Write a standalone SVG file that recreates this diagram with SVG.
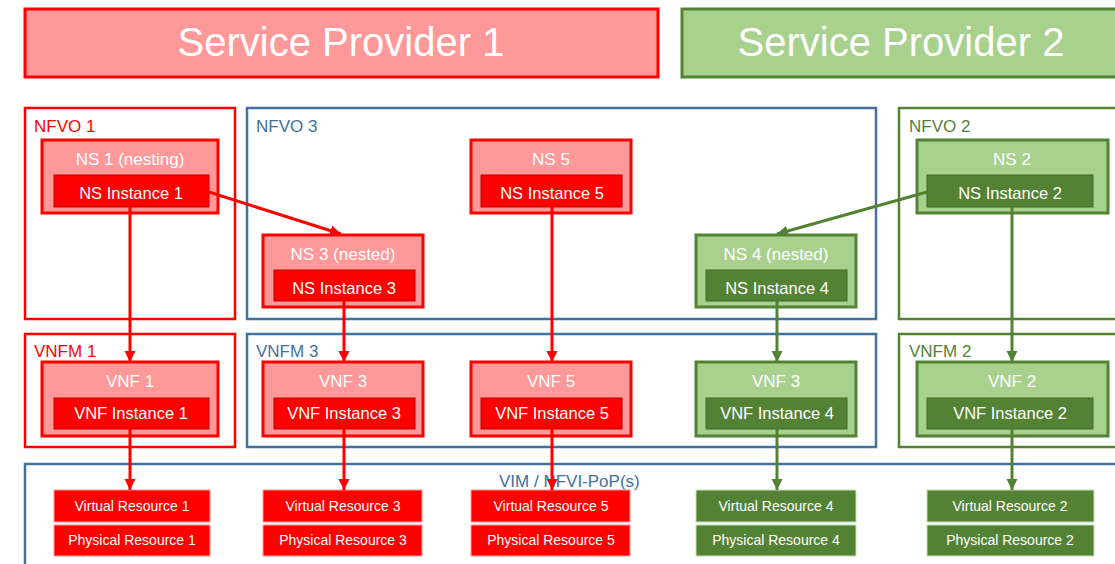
<svg xmlns="http://www.w3.org/2000/svg" width="1115" height="564" viewBox="0 0 1115 564">
<defs>
<style>
text{font-family:"Liberation Sans",Arial,sans-serif}
.banner{font-size:40px;fill:#fff;text-anchor:middle}
.ttl{font-size:17px;fill:#fff;text-anchor:middle}
.inst{font-size:16.5px;fill:#fff;text-anchor:middle}
.res{font-size:14px;fill:#fff;text-anchor:middle}
.lbl{font-size:17px}
.rOut{fill:#FF9999;stroke:#FF0000;stroke-width:3}
.rIn{fill:#FF0000;stroke:#C00000;stroke-width:1}
.rRes{fill:#FF0000;stroke:#FF9A9A;stroke-width:1}
.gOut{fill:#A9D18E;stroke:#548235;stroke-width:3}
.gIn{fill:#548235;stroke:#3F6A25;stroke-width:1}
.gRes{fill:#548235;stroke:#C5E0B4;stroke-width:1}
.cR{fill:none;stroke:#FF0000;stroke-width:2.5}
.cB{fill:none;stroke:#41719C;stroke-width:2.5}
.cG{fill:none;stroke:#548235;stroke-width:2.5}
.aR{stroke:#FF0000;stroke-width:3;fill:none;marker-end:url(#arR)}
.aG{stroke:#548235;stroke-width:3;fill:none;marker-end:url(#arG)}
</style>
<marker id="arR" markerUnits="userSpaceOnUse" markerWidth="12" markerHeight="12" viewBox="0 0 12 12" refX="11" refY="6" orient="auto"><path d="M0,0.5 L11,6 L0,11.5 Z" fill="#FF0000"/></marker>
<marker id="arG" markerUnits="userSpaceOnUse" markerWidth="12" markerHeight="12" viewBox="0 0 12 12" refX="11" refY="6" orient="auto"><path d="M0,0.5 L11,6 L0,11.5 Z" fill="#548235"/></marker>
</defs>

<g id="sp1"><rect x="25" y="9" width="633" height="68" fill="#FF9999" stroke="#FF0000" stroke-width="3"/><text class="banner" x="341" y="56">Service Provider 1</text></g>
<g id="sp2"><rect x="682" y="9" width="440" height="68" fill="#A9D18E" stroke="#548235" stroke-width="3"/><text class="banner" x="901" y="56">Service Provider 2</text></g>

<g id="nfvo1"><rect class="cR" x="25" y="108" width="210" height="211"/><text class="lbl" x="34" y="132" fill="#FF0000">NFVO 1</text></g>
<g id="nfvo3"><rect class="cB" x="247" y="108" width="629" height="211"/><text class="lbl" x="256" y="132" fill="#41719C">NFVO 3</text></g>
<g id="nfvo2"><rect class="cG" x="899" y="108" width="230" height="211"/><text class="lbl" x="909" y="132" fill="#548235">NFVO 2</text></g>

<g id="vnfm1"><rect class="cR" x="25" y="334" width="210" height="113"/><text class="lbl" x="34" y="357" fill="#FF0000">VNFM 1</text></g>
<g id="vnfm3"><rect class="cB" x="247" y="334" width="629" height="113"/><text class="lbl" x="256" y="357" fill="#41719C">VNFM 3</text></g>
<g id="vnfm2"><rect class="cG" x="899" y="334" width="230" height="113"/><text class="lbl" x="909" y="357" fill="#548235">VNFM 2</text></g>

<g id="vim"><rect class="cB" x="25" y="464" width="1110" height="120"/><text class="lbl" x="499" y="487" fill="#41719C" font-size="17.5">VIM / NFVI-PoP(s)</text></g>

<g id="ns1"><rect class="rOut" x="42" y="140" width="176" height="73"/><text class="ttl" x="130" y="165">NS 1 (nesting)</text><rect class="rIn" x="54" y="175" width="155" height="32"/><text class="inst" x="131" y="199">NS Instance 1</text></g>
<g id="ns3"><rect class="rOut" x="263" y="235" width="160" height="72"/><text class="ttl" x="343" y="260">NS 3 (nested)</text><rect class="rIn" x="274" y="270" width="141" height="31"/><text class="inst" x="344" y="294">NS Instance 3</text></g>
<g id="ns5"><rect class="rOut" x="471" y="140" width="160" height="73"/><text class="ttl" x="551" y="165">NS 5</text><rect class="rIn" x="481" y="175" width="141" height="32"/><text class="inst" x="552" y="199">NS Instance 5</text></g>
<g id="ns4"><rect class="gOut" x="696" y="235" width="160" height="72"/><text class="ttl" x="776" y="260">NS 4 (nested)</text><rect class="gIn" x="706" y="270" width="141" height="31"/><text class="inst" x="777" y="294">NS Instance 4</text></g>
<g id="ns2"><rect class="gOut" x="917" y="140" width="191" height="73"/><text class="ttl" x="1012" y="165">NS 2</text><rect class="gIn" x="927" y="175" width="166" height="32"/><text class="inst" x="1010" y="199">NS Instance 2</text></g>

<g id="vnf1"><rect class="rOut" x="42" y="362" width="176" height="74"/><text class="ttl" x="130" y="387">VNF 1</text><rect class="rIn" x="54" y="398" width="155" height="31"/><text class="inst" x="131" y="419">VNF Instance 1</text></g>
<g id="vnf3r"><rect class="rOut" x="263" y="362" width="160" height="74"/><text class="ttl" x="343" y="387">VNF 3</text><rect class="rIn" x="274" y="398" width="141" height="31"/><text class="inst" x="344" y="419">VNF Instance 3</text></g>
<g id="vnf5"><rect class="rOut" x="471" y="362" width="160" height="74"/><text class="ttl" x="551" y="387">VNF 5</text><rect class="rIn" x="481" y="398" width="141" height="31"/><text class="inst" x="552" y="419">VNF Instance 5</text></g>
<g id="vnf3g"><rect class="gOut" x="696" y="362" width="160" height="74"/><text class="ttl" x="776" y="387">VNF 3</text><rect class="gIn" x="706" y="398" width="141" height="31"/><text class="inst" x="777" y="419">VNF Instance 4</text></g>
<g id="vnf2"><rect class="gOut" x="917" y="362" width="191" height="74"/><text class="ttl" x="1012" y="387">VNF 2</text><rect class="gIn" x="927" y="398" width="166" height="31"/><text class="inst" x="1010" y="419">VNF Instance 2</text></g>

<g id="res1"><rect class="rRes" x="54" y="490" width="156" height="32"/><text class="res" x="132" y="511">Virtual Resource 1</text><rect class="rRes" x="54" y="525" width="156" height="31"/><text class="res" x="132" y="545">Physical Resource 1</text></g>
<g id="res3"><rect class="rRes" x="263" y="490" width="159" height="32"/><text class="res" x="343" y="511">Virtual Resource 3</text><rect class="rRes" x="263" y="525" width="159" height="31"/><text class="res" x="343" y="545">Physical Resource 3</text></g>
<g id="res5"><rect class="rRes" x="471" y="490" width="159" height="32"/><text class="res" x="551" y="511">Virtual Resource 5</text><rect class="rRes" x="471" y="525" width="159" height="31"/><text class="res" x="551" y="545">Physical Resource 5</text></g>
<g id="res4"><rect class="gRes" x="696" y="490" width="160" height="32"/><text class="res" x="776" y="511">Virtual Resource 4</text><rect class="gRes" x="696" y="525" width="160" height="31"/><text class="res" x="776" y="545">Physical Resource 4</text></g>
<g id="res2"><rect class="gRes" x="927" y="490" width="167" height="32"/><text class="res" x="1010" y="511">Virtual Resource 2</text><rect class="gRes" x="927" y="525" width="167" height="31"/><text class="res" x="1010" y="545">Physical Resource 2</text></g>

<g id="connectors">
<line class="aR" x1="209" y1="192" x2="341" y2="234"/>
<line class="aG" x1="927" y1="192" x2="777" y2="234"/>
<line class="aR" x1="130" y1="207" x2="130" y2="362"/>
<line class="aR" x1="344" y1="301" x2="344" y2="362"/>
<line class="aR" x1="552" y1="207" x2="552" y2="362"/>
<line class="aG" x1="777" y1="301" x2="777" y2="362"/>
<line class="aG" x1="1012" y1="207" x2="1012" y2="362"/>
<line class="aR" x1="130" y1="429" x2="130" y2="490"/>
<line class="aR" x1="344" y1="429" x2="344" y2="490"/>
<line class="aR" x1="552" y1="429" x2="552" y2="490"/>
<line class="aG" x1="777" y1="429" x2="777" y2="490"/>
<line class="aG" x1="1012" y1="429" x2="1012" y2="490"/>
</g>
</svg>
